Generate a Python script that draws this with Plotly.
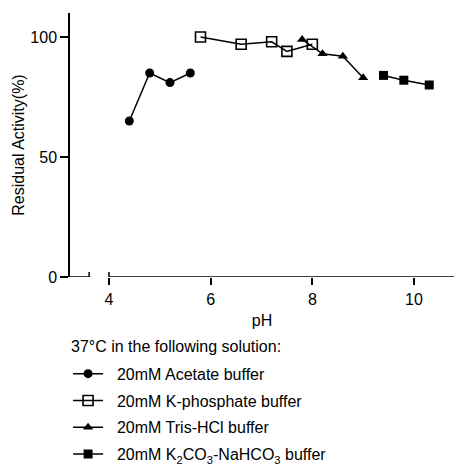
import plotly.graph_objects as go

ph_acetate = [4.4, 4.8, 5.2, 5.6]
act_acetate = [65, 85, 81, 85]
ph_phos = [5.8, 6.6, 7.2, 7.5, 8.0]
act_phos = [100, 97, 98, 94, 97]
ph_tris = [7.8, 8.2, 8.6, 9.0]
act_tris = [99, 93, 92, 83]
ph_carb = [9.4, 9.8, 10.3]
act_carb = [84, 82, 80]

names = ["20mM Acetate buffer", "20mM K-phosphate buffer", "20mM Tris-HCl buffer",
         "20mM K<sub>2</sub>CO<sub>3</sub>-NaHCO<sub>3</sub> buffer"]
xtick_vals = [4, 6, 8, 10]

FONT = "Liberation Sans, Arial, sans-serif"
fig = go.Figure()
series = [
    (ph_acetate, act_acetate, dict(symbol="circle", size=9, color="black")),
    (ph_phos, act_phos, dict(symbol="square-open", size=10, color="black", line=dict(width=1.6, color="black"))),
    (ph_tris, act_tris, dict(symbol="triangle-up", size=9, color="black")),
    (ph_carb, act_carb, dict(symbol="square", size=9, color="black")),
]
for i, (x, y, m) in enumerate(series):
    fig.add_trace(go.Scatter(x=x, y=y, mode="lines+markers", name="\u00a0\u00a0" + names[i], marker=m,
                             line=dict(color="black", width=1.5), legendgroup=str(i)))

xl, xr = 3.233, 10.787
stub = 3.61
fig.add_shape(type="line", xref="x", yref="y", x0=xl, x1=stub, y0=0, y1=0, line=dict(color="black", width=1.5))
fig.add_shape(type="line", xref="x", yref="y", x0=4, x1=xr, y0=0, y1=0, line=dict(color="black", width=1.5))
for bx in [stub, 4]:
    fig.add_shape(type="line", xref="x", yref="y", x0=bx, x1=bx, y0=-3.3, y1=2.1, line=dict(color="black", width=1.5))

fig.add_annotation(text="37°C in the following solution:", xref="paper", yref="paper",
                   x=0, y=-0.265, xanchor="left", yanchor="middle", showarrow=False,
                   font=dict(size=16), xshift=-1)

fig.update_layout(
    width=454, height=465,
    margin=dict(l=70, r=0, t=13, b=188, autoexpand=False),
    paper_bgcolor="white", plot_bgcolor="white",
    font=dict(family=FONT, size=16, color="black"),
    showlegend=True,
    legend=dict(
        x=-0.005, y=-0.302, xanchor="left", yanchor="top",
        font=dict(size=16), traceorder="grouped", tracegroupgap=3,
        itemwidth=30, bgcolor="rgba(0,0,0,0)",
    ),
    xaxis=dict(range=[xl, xr], showline=False, showgrid=False, zeroline=False,
               tickvals=xtick_vals, ticks="outside", ticklen=7, tickwidth=1.5, tickcolor="black",
               tickfont=dict(size=16), ticklabelstandoff=1, automargin=False,
               title=dict(text="pH", font=dict(size=16), standoff=7)),
    yaxis=dict(range=[0, 110], showline=True, linecolor="black", linewidth=1.5, showgrid=False,
               zeroline=False, tickvals=[0, 50, 100], ticks="outside", ticklen=8, tickwidth=1.5,
               tickcolor="black", tickfont=dict(size=16), automargin=False,
               title=dict(text="Residual Activity(%)", font=dict(size=16), standoff=2)),
)
fig.write_html("out.html")
